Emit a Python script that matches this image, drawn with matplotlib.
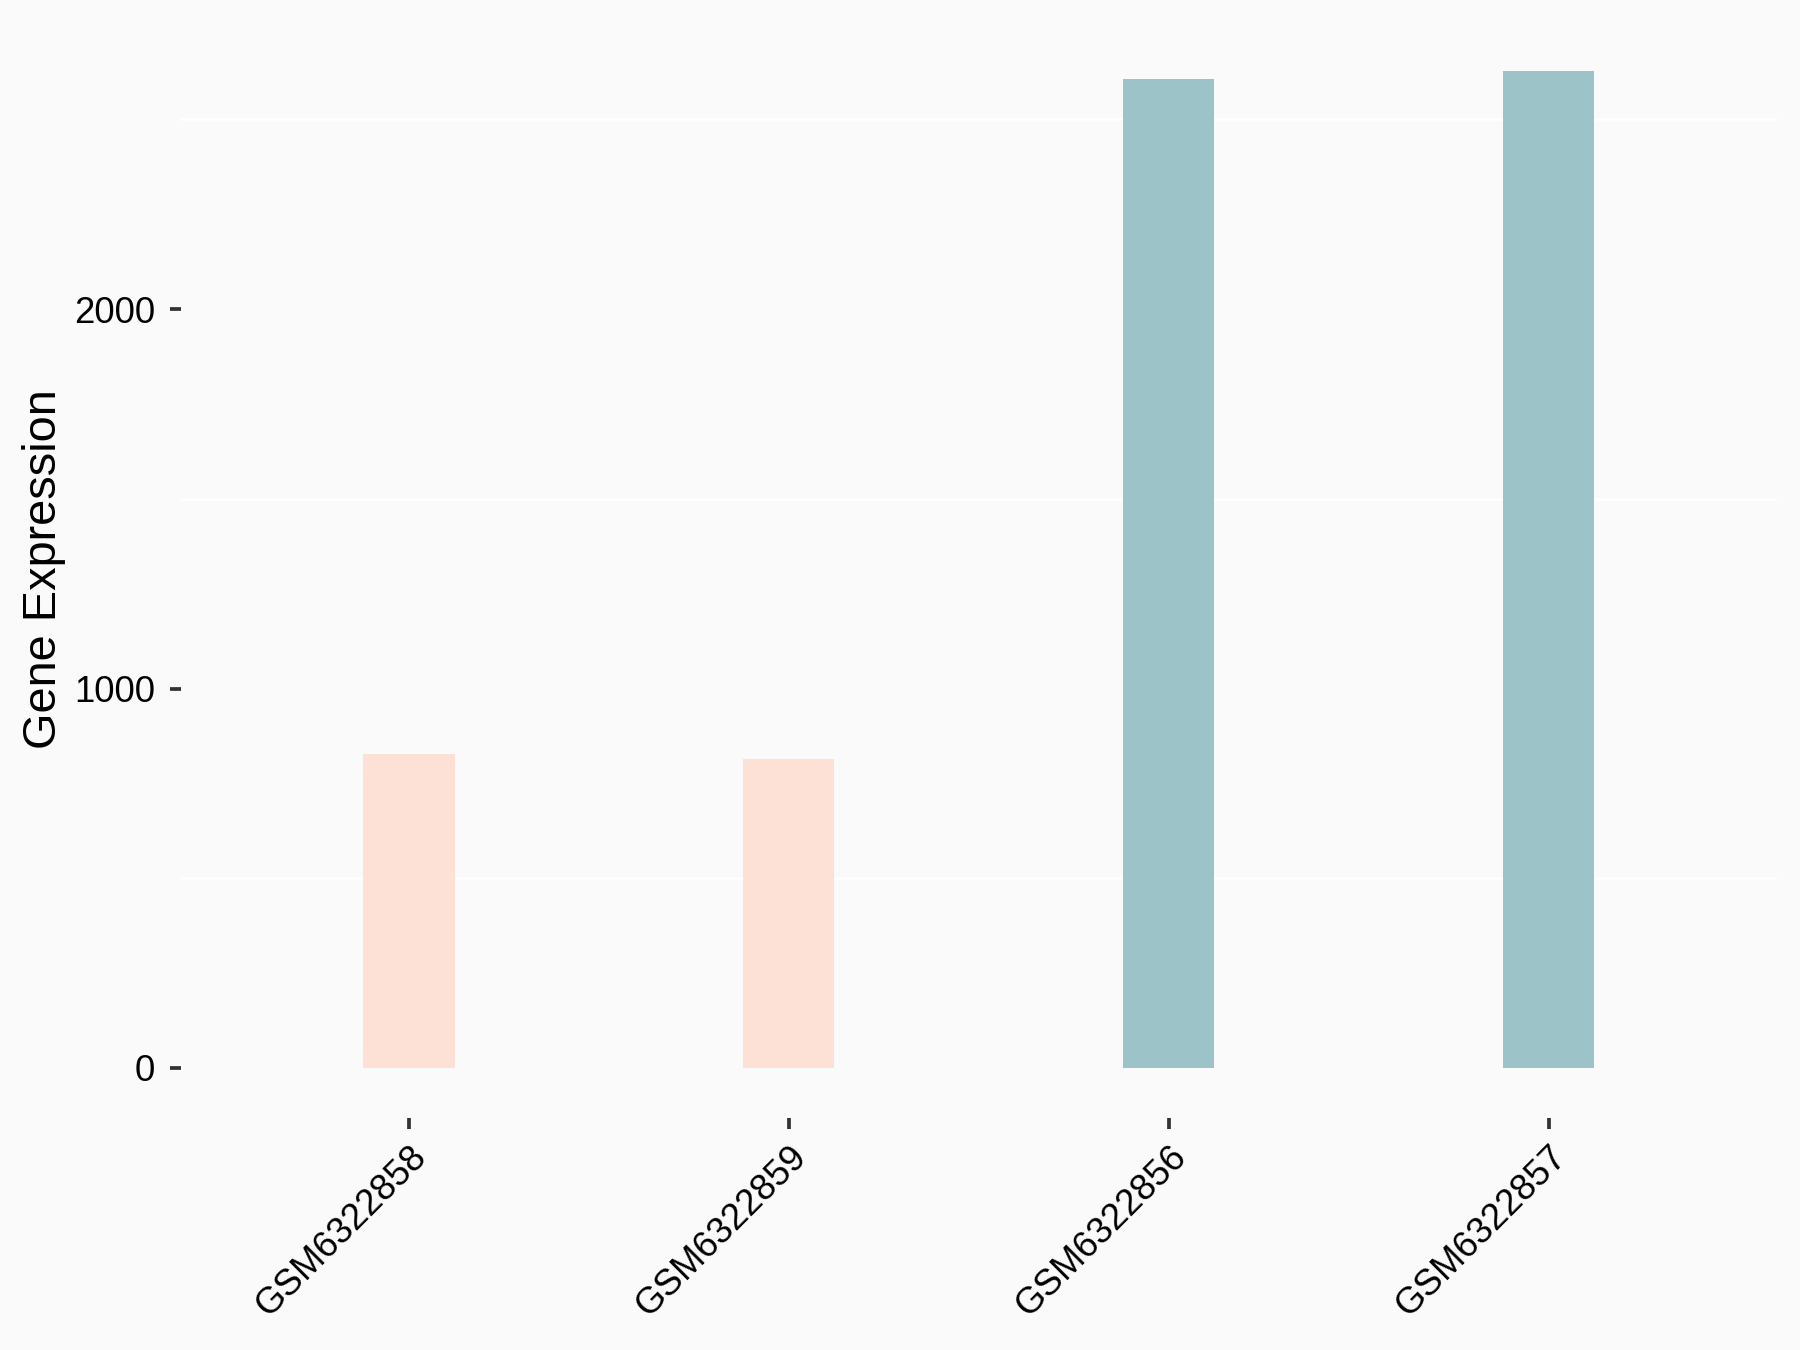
import matplotlib.pyplot as plt

# sample names and expression values
samples = ["GSM6322858", "GSM6322859", "GSM6322856", "GSM6322857"]
expression = [828, 815, 2607, 2628]
groups = ["low", "low", "high", "high"]
group_colors = {"low": "#FDE0D6", "high": "#9CC4C8"}

plt.rcParams['font.family'] = ['Liberation Sans', 'DejaVu Sans']

fig = plt.figure(figsize=(12, 9), dpi=150, facecolor="#FAFAFA")
ax = fig.add_axes([0.1006, 0.172, 0.8864, 0.8125])
ax.set_facecolor("#FAFAFA")

x = range(len(samples))
ax.bar(x, expression, width=0.24, color=[group_colors[g] for g in groups], zorder=2)

# faint minor grid like the ggplot theme
for yv in [500, 1500, 2500]:
    ax.axhline(yv, color="white", linewidth=1.2, zorder=1)

ymax = max(expression) * 1.05
ax.set_ylim(-0.05 * max(expression), ymax)
ax.set_xlim(-0.6, len(samples) - 0.4)
ax.set_yticks([0, 1000, 2000])
ax.set_xticks(list(x))
ax.set_xticklabels(samples, rotation=45, ha="right", va="top", rotation_mode="anchor")

for s in ax.spines.values():
    s.set_visible(False)
ax.tick_params(axis="both", colors="#333333", length=5.5, width=1.8, labelsize=17.5, labelcolor="black")
ax.tick_params(axis="y", pad=7)
ax.tick_params(axis="x", pad=5)
ax.set_ylabel("Gene Expression", fontsize=22.5, labelpad=4)

fig.savefig("out.png", dpi=150, facecolor=fig.get_facecolor())
